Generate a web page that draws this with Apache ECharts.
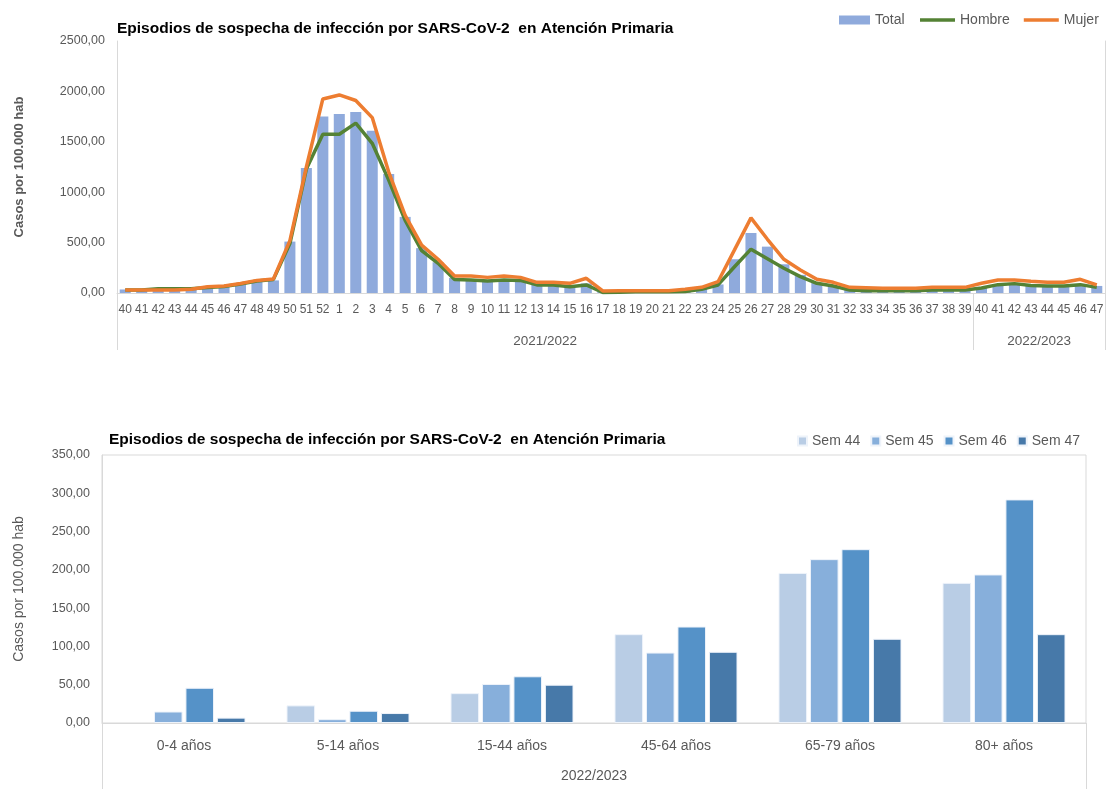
<!DOCTYPE html>
<html>
<head>
<meta charset="utf-8">
<script src="https://cdn.jsdelivr.net/npm/echarts@6/dist/echarts.min.js"></script>
<style>
    html, body { margin: 0; padding: 0; background: #fff; }
    #main { width: 1109px; height: 789px; }
</style>
</head>
<body>
<div id="main"></div>
<script>
// semanas epidemiologicas (temporada 2021/2022 y 2022/2023)
var weeks = ['40','41','42','43','44','45','46','47','48','49','50','51','52',
    '1','2','3','4','5','6','7','8','9','10','11','12','13','14','15','16','17','18','19','20',
    '21','22','23','24','25','26','27','28','29','30','31','32','33','34','35','36','37','38','39',
    '40','41','42','43','44','45','46','47'];
var seasons = ['2021/2022', '2022/2023'];
var seasonWeeks = [52, 8];

var total = [35,30,35,35,40,55,65,90,115,125,510,1240,1750,
    1775,1795,1610,1180,755,445,305,150,130,115,130,135,90,80,70,95,12,15,18,18,
    18,25,40,85,335,595,460,285,180,100,65,35,30,28,28,30,35,35,35,
    55,80,90,80,75,75,90,70];
var hombre = [30,30,42,42,42,55,65,90,120,135,490,1230,1575,
    1575,1685,1485,1120,720,420,295,135,130,120,130,125,80,80,63,80,5,8,12,12,
    12,15,37,80,260,435,340,245,162,96,70,30,23,23,23,23,30,30,30,
    50,83,93,75,70,70,83,56];
var mujer = [30,30,30,30,37,63,70,95,125,140,520,1250,1925,
    1965,1910,1740,1200,770,475,335,168,168,155,168,155,106,106,96,146,20,22,23,23,
    23,37,56,112,428,745,533,334,228,136,106,56,52,46,46,46,56,56,56,
    96,129,129,116,106,106,136,80];

// grupos de edad, temporada 2022/2023
var ageGroups = ['0-4 años', '5-14 años', '15-44 años', '45-64 años', '65-79 años', '80+ años'];
var semNames = ['Sem 44', 'Sem 45', 'Sem 46', 'Sem 47'];
var sem44 = [null, 23, 39, 116, 196, 183];
var sem45 = [15, 5, 51, 92, 214, 194];
var sem46 = [46, 16, 61, 126, 227, 292];
var sem47 = [7, 13, 50, 93, 110, 116];

var titleText = 'Episodios de sospecha de infección por SARS-CoV-2  en Atención Primaria';
var font = 'Liberation Sans, Arial, sans-serif';
var grey = '#595959';
var lineGrey = '#d9d9d9';

function fmt(v) {
    return v.toFixed(2).replace('.', ',');
}

// posiciones de separacion del eje de temporadas
var seasonTicks = [0];
var seasonCenters = [];
var acc = 0;
for (var i = 0; i < seasonWeeks.length; i++) {
    seasonCenters.push(acc + seasonWeeks[i] / 2);
    acc += seasonWeeks[i];
    seasonTicks.push(acc);
}

function semBar(name, values, color) {
    return {
        name: name,
        type: 'bar',
        xAxisIndex: 2, yAxisIndex: 2,
        barCategoryGap: '25%', barGap: '10%',
        itemStyle: { color: color, borderColor: '#eef3fa', borderWidth: 1 },
        data: values
    };
}

var myChart = echarts.init(document.getElementById('main'));
myChart.setOption({
    backgroundColor: '#fff',
    textStyle: { fontFamily: font },
    animation: false,
    title: [{
        text: titleText,
        left: 112,
        top: 16,
        textStyle: { fontFamily: font, fontSize: 15.5, fontWeight: 'bold', color: '#000' }
    }, {
        text: titleText,
        left: 104,
        top: 427,
        textStyle: { fontFamily: font, fontSize: 15.5, fontWeight: 'bold', color: '#000' }
    }],
    legend: [{
        top: 8,
        left: 834,
        itemWidth: 31,
        itemHeight: 9,
        textStyle: { color: grey, fontSize: 14, fontFamily: font },
        data: [{ name: 'Total', icon: 'rect' }]
    }, {
        top: 8,
        left: 915,
        icon: 'rect',
        itemWidth: 35,
        itemHeight: 3.5,
        itemGap: 14,
        textStyle: { color: grey, fontSize: 14, fontFamily: font },
        data: ['Hombre', 'Mujer']
    }, {
        top: 429,
        right: 24,
        itemWidth: 9,
        itemHeight: 9,
        itemGap: 10,
        icon: 'rect',
        textStyle: { color: grey, fontSize: 14, fontFamily: font },
        data: semNames
    }],
    grid: [{
        left: 117, right: 4, top: 41, height: 252
    }, {
        left: 102, right: 23, top: 455, height: 268,
        show: true, borderColor: lineGrey, borderWidth: 1
    }],
    xAxis: [{
        type: 'category',
        gridIndex: 0,
        data: weeks,
        axisLine: { lineStyle: { color: lineGrey, width: 1 } },
        axisTick: { show: false },
        axisLabel: { interval: 0, color: grey, fontSize: 12, margin: 11 }
    }, {
        type: 'value',
        gridIndex: 0,
        min: 0,
        max: weeks.length,
        position: 'bottom',
        axisLine: { show: false },
        splitLine: { show: false },
        axisTick: { show: true, customValues: seasonTicks, length: 57, lineStyle: { color: lineGrey } },
        axisLabel: {
            customValues: seasonCenters,
            color: grey, fontSize: 13.5, margin: 41,
            formatter: function (v) {
                return v < seasonWeeks[0] ? seasons[0] : seasons[1];
            }
        }
    }, {
        type: 'category',
        gridIndex: 1,
        data: ageGroups,
        axisLine: { lineStyle: { color: lineGrey, width: 1 } },
        axisTick: { show: false },
        axisLabel: { color: grey, fontSize: 14, margin: 16 }
    }, {
        type: 'value',
        gridIndex: 1,
        min: 0,
        max: ageGroups.length,
        position: 'bottom',
        axisLine: { show: false },
        splitLine: { show: false },
        axisTick: { show: true, customValues: [0, ageGroups.length], length: 66, lineStyle: { color: lineGrey } },
        axisLabel: {
            customValues: [ageGroups.length / 2],
            color: grey, fontSize: 14, margin: 46,
            formatter: function () { return seasons[1]; }
        }
    }],
    yAxis: [{
        type: 'value',
        gridIndex: 0,
        min: 0, max: 2500, interval: 500,
        axisLine: { show: true, lineStyle: { color: lineGrey } },
        axisTick: { show: false },
        splitLine: { show: false },
        axisLabel: { color: grey, fontSize: 12.5, margin: 12, formatter: fmt },
        name: 'Casos por 100.000 hab',
        nameLocation: 'middle',
        nameGap: 91,
        nameTextStyle: { color: grey, fontSize: 13, fontWeight: 'bold', fontFamily: font }
    }, {
        type: 'value',
        gridIndex: 0,
        position: 'right',
        min: 0, max: 2500,
        axisLine: { show: true, lineStyle: { color: lineGrey } },
        axisTick: { show: false },
        axisLabel: { show: false },
        splitLine: { show: false }
    }, {
        type: 'value',
        gridIndex: 1,
        min: 0, max: 350, interval: 50,
        axisLine: { show: true, lineStyle: { color: lineGrey } },
        axisTick: { show: false },
        splitLine: { show: false },
        axisLabel: { color: grey, fontSize: 12.5, margin: 12, formatter: fmt },
        name: 'Casos por 100.000 hab',
        nameLocation: 'middle',
        nameGap: 76,
        nameTextStyle: { color: grey, fontSize: 14, fontFamily: font }
    }],
    series: [{
        name: 'Total',
        type: 'bar',
        xAxisIndex: 0, yAxisIndex: 0,
        barCategoryGap: '33%',
        itemStyle: { color: '#8faadc' },
        data: total
    }, {
        name: 'Hombre',
        type: 'line',
        xAxisIndex: 0, yAxisIndex: 0,
        symbol: 'none',
        lineStyle: { color: '#548235', width: 3.5 },
        itemStyle: { color: '#548235' },
        data: hombre
    }, {
        name: 'Mujer',
        type: 'line',
        xAxisIndex: 0, yAxisIndex: 0,
        symbol: 'none',
        lineStyle: { color: '#ed7d31', width: 3.5 },
        itemStyle: { color: '#ed7d31' },
        data: mujer
    },
    semBar(semNames[0], sem44, '#b9cde5'),
    semBar(semNames[1], sem45, '#87afdb'),
    semBar(semNames[2], sem46, '#5592c8'),
    semBar(semNames[3], sem47, '#4779a9')]
});
</script>
</body>
</html>
